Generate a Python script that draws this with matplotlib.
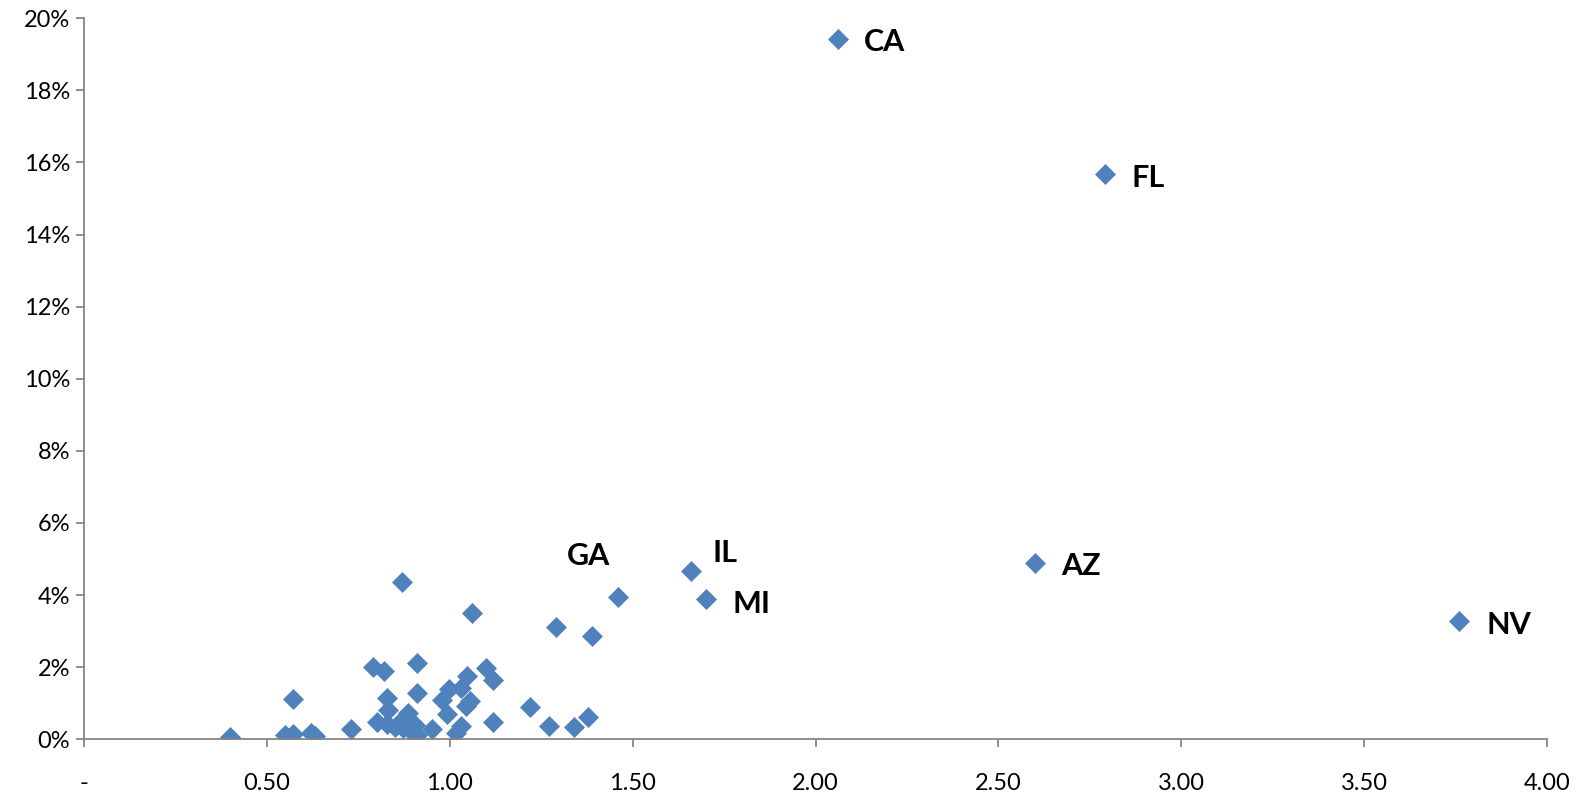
import matplotlib
matplotlib.use('Agg')
import matplotlib.pyplot as plt
from matplotlib.ticker import FuncFormatter, MultipleLocator

plt.rcParams['font.family'] = ['Lato', 'DejaVu Sans']

# labelled outliers
states = ['CA', 'FL', 'AZ', 'NV', 'IL', 'MI', 'GA']
state_x = [2.061, 2.792, 2.600, 3.759, 1.658, 1.700, 1.459]
state_y = [19.43, 15.69, 4.89, 3.28, 4.66, 3.88, 3.94]

# the rest of the cloud (no labels)
other_x = [0.868, 1.060, 1.290, 1.390, 0.789, 0.821, 0.910, 0.571, 1.100,
           1.118, 1.047, 0.998, 0.910, 0.829, 1.030, 0.978, 1.055, 1.044,
           0.992, 1.218, 0.830, 0.800, 0.885, 1.119, 1.270, 1.340, 1.379,
           1.030, 1.016, 0.951, 0.730, 0.399, 0.550, 0.572, 0.621, 0.632,
           0.829, 0.864, 0.873, 0.905, 0.910, 0.850, 0.895]
other_y = [4.37, 3.50, 3.10, 2.87, 2.01, 1.88, 2.11, 1.11, 1.97,
           1.63, 1.74, 1.40, 1.29, 1.15, 1.42, 1.08, 1.06, 0.92,
           0.71, 0.88, 0.82, 0.48, 0.72, 0.47, 0.37, 0.33, 0.61,
           0.38, 0.16, 0.28, 0.28, 0.07, 0.12, 0.14, 0.18, 0.09,
           0.42, 0.49, 0.31, 0.40, 0.12, 0.35, 0.22]

# label placement relative to its point (points)
label_offsets = {
    'CA': (19, -2, 'left'), 'FL': (19, -3, 'left'), 'AZ': (19, -2, 'left'),
    'NV': (20, -3, 'left'), 'MI': (19, -3, 'left'), 'IL': (16, 13, 'left'),
    'GA': (-21, 30, 'center'),
}

blue = '#4F81BD'
axis_gray = '#868686'

fig = plt.figure(figsize=(15.86, 7.94), dpi=100)
ax = fig.add_axes([0.053, 0.069, 0.9225, 0.908])

ax.plot(other_x + state_x, [v / 100 for v in other_y + state_y],
        linestyle='none', marker='D', ms=10.5, color=blue,
        markeredgecolor=blue, markeredgewidth=0.5)

for name, x, y in zip(states, state_x, state_y):
    dx, dy, ha = label_offsets[name]
    ax.annotate(name, (x, y / 100), xytext=(dx, dy), textcoords='offset points',
                ha=ha, va='center', fontsize=22, fontweight='bold', color='black')

ax.set_xlim(0, 4.0)
ax.set_ylim(0, 0.20)
ax.xaxis.set_major_locator(MultipleLocator(0.5))
ax.yaxis.set_major_locator(MultipleLocator(0.02))
ax.xaxis.set_major_formatter(FuncFormatter(lambda v, p: '-' if abs(v) < 1e-9 else f'{v:.2f}'))
ax.yaxis.set_major_formatter(FuncFormatter(lambda v, p: f'{v * 100:.0f}%'))

for side in ['top', 'right']:
    ax.spines[side].set_visible(False)
for side in ['left', 'bottom']:
    ax.spines[side].set_color(axis_gray)
    ax.spines[side].set_linewidth(1.3)

ax.tick_params(axis='both', direction='out', length=6, width=1.3,
               color=axis_gray, labelsize=17, labelcolor='black')
ax.tick_params(axis='x', pad=18)
ax.tick_params(axis='y', pad=4)

fig.savefig('out.png', dpi=100)
